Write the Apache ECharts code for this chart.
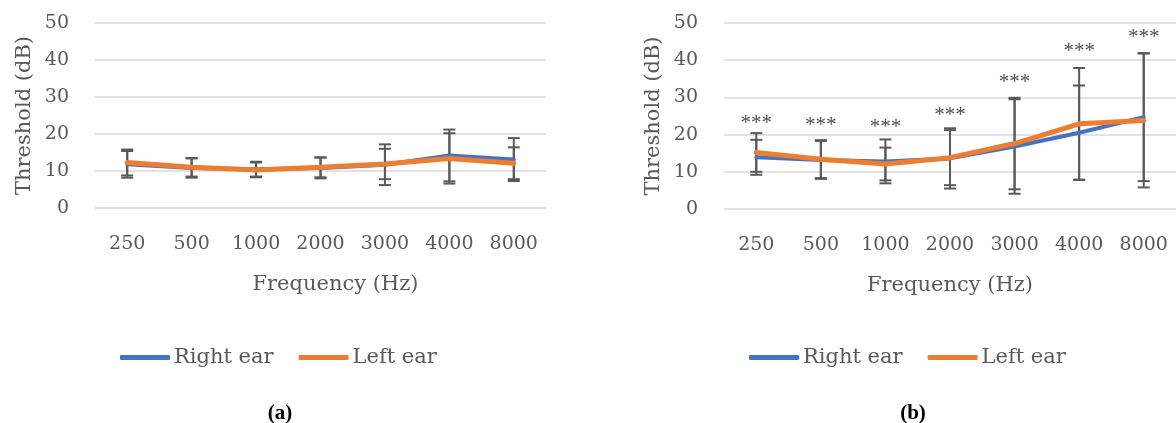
<!DOCTYPE html>
<html>
<head>
<meta charset="utf-8">
<script src="https://cdn.jsdelivr.net/npm/echarts@6/dist/echarts.min.js"></script>
<style>
html,body{margin:0;padding:0;background:#fff;}
#c{width:1176px;height:423px;}
</style>
</head>
<body>
<div id="c"></div>
<script>
// ---- data ----
const categories = ['250', '500', '1000', '2000', '3000', '4000', '8000'];
const yTicks = [0, 10, 20, 30, 40, 50];

// panel (a)
const aRight   = [11.8, 10.8, 10.5, 10.8, 11.7, 14.2, 13.1];
const aRightSD = [3.6, 2.6, 2.0, 2.8, 5.5, 7.0, 5.8];
const aLeft    = [12.3, 11.0, 10.3, 11.0, 11.9, 13.4, 12.1];
const aLeftSD  = [3.5, 2.5, 2.0, 2.7, 4.1, 6.8, 4.3];

// panel (b)
const bRight   = [13.9, 13.2, 12.8, 13.6, 16.8, 20.5, 24.7];
const bRightSD = [4.7, 5.1, 5.9, 8.1, 12.7, 12.7, 17.2];
const bLeft    = [15.2, 13.4, 12.1, 13.8, 17.6, 22.9, 23.8];
const bLeftSD  = [5.2, 5.1, 4.4, 7.4, 12.3, 15.0, 18.0];
const starLevels = [24.0, 23.6, 22.9, 26.2, 35.2, 43.3, 47.1];
const starText = '***';

const panelLabels = ['(a)', '(b)'];
const seriesNames = ['Right ear', 'Left ear'];

// ---- styling ----
const BLUE = '#4472C4', ORANGE = '#ED7D31', GREY = '#595959';
const FONT = 'DejaVu Serif';

function errData(mean, sd) {
  return mean.map((m, i) => [i, m - sd[i], m + sd[i]]);
}
function renderErr(params, api) {
  const x = api.value(0);
  const lo = api.coord([x, api.value(1)]);
  const hi = api.coord([x, api.value(2)]);
  const hw = 6;
  const st = { stroke: GREY, lineWidth: 2 };
  return {
    type: 'group',
    children: [
      { type: 'line', shape: { x1: lo[0], y1: lo[1], x2: hi[0], y2: hi[1] }, style: st },
      { type: 'line', shape: { x1: lo[0] - hw, y1: lo[1], x2: lo[0] + hw, y2: lo[1] }, style: st },
      { type: 'line', shape: { x1: hi[0] - hw, y1: hi[1], x2: hi[0] + hw, y2: hi[1] }, style: st }
    ]
  };
}

function xAxis(idx, pad) {
  return {
    type: 'category', gridIndex: idx, data: categories, boundaryGap: true,
    axisLine: { show: false }, axisTick: { show: false },
    axisLabel: { color: GREY, fontFamily: FONT, fontSize: 19, margin: 27, interval: 0 },
    name: 'Frequency (Hz)', nameLocation: 'middle', nameGap: 66,
    nameTextStyle: { color: GREY, fontFamily: FONT, fontSize: 21, padding: pad }
  };
}
function yAxis(idx) {
  return {
    type: 'value', gridIndex: idx, min: yTicks[0], max: yTicks[yTicks.length - 1], interval: 10,
    axisLine: { show: false }, axisTick: { show: false },
    axisLabel: { color: GREY, fontFamily: FONT, fontSize: 19, margin: 26 },
    splitLine: { lineStyle: { color: '#D9D9D9', width: 1.5 } },
    name: 'Threshold (dB)', nameLocation: 'middle', nameGap: 60,
    nameTextStyle: { color: GREY, fontFamily: FONT, fontSize: 21 }
  };
}
function panelSeries(idx, r, rsd, l, lsd) {
  return [
    { type: 'custom', name: 'errR' + idx, xAxisIndex: idx, yAxisIndex: idx, data: errData(r, rsd), renderItem: renderErr, z: 1, encode: { x: 0, y: [1, 2] } },
    { type: 'custom', name: 'errL' + idx, xAxisIndex: idx, yAxisIndex: idx, data: errData(l, lsd), renderItem: renderErr, z: 1, encode: { x: 0, y: [1, 2] } },
    { type: 'line', name: seriesNames[0], xAxisIndex: idx, yAxisIndex: idx, data: r, symbol: 'none', z: 3,
      color: BLUE, lineStyle: { color: BLUE, width: 4, cap: 'round', join: 'round' } },
    { type: 'line', name: seriesNames[1], xAxisIndex: idx, yAxisIndex: idx, data: l, symbol: 'none', z: 4,
      color: ORANGE, lineStyle: { color: ORANGE, width: 5, cap: 'round', join: 'round' } }
  ];
}

const series = [].concat(
  panelSeries(0, aRight, aRightSD, aLeft, aLeftSD),
  panelSeries(1, bRight, bRightSD, bLeft, bLeftSD),
  [{
    type: 'scatter', name: 'sig', xAxisIndex: 1, yAxisIndex: 1, symbolSize: 1, z: 5,
    itemStyle: { color: 'rgba(0,0,0,0)' },
    data: starLevels.map((v, i) => [i, v]),
    label: { show: true, position: 'inside', formatter: starText, color: '#222',
      fontFamily: 'Liberation Serif', fontSize: 21, offset: [0, 4] }
  }]
);

function legend(left) {
  return {
    left: left, top: 342, data: seriesNames, icon: 'roundRect', itemWidth: 50, itemHeight: 5,
    itemGap: 25, selectedMode: false,
    textStyle: { color: GREY, fontFamily: FONT, fontSize: 21, padding: [0, 0, 0, -1] }
  };
}

const chart = echarts.init(document.getElementById('c'), null, { renderer: 'canvas' });
chart.setOption({
  animation: false,
  backgroundColor: '#fff',
  grid: [
    { left: 95, top: 23, width: 451, height: 185 },
    { left: 724, top: 23, width: 452, height: 186 }
  ],
  xAxis: [xAxis(0, [0, 0, 0, 30]), xAxis(1, 0)],
  yAxis: [yAxis(0), yAxis(1)],
  legend: [legend(115), legend(744)],
  title: [
    { text: panelLabels[0], left: 275, top: 398, textAlign: 'center',
      textStyle: { fontFamily: 'Liberation Serif', fontWeight: 'bold', fontSize: 21, color: '#000' } },
    { text: panelLabels[1], left: 908, top: 398, textAlign: 'center',
      textStyle: { fontFamily: 'Liberation Serif', fontWeight: 'bold', fontSize: 21, color: '#000' } }
  ],
  series: series
});
</script>
</body>
</html>
